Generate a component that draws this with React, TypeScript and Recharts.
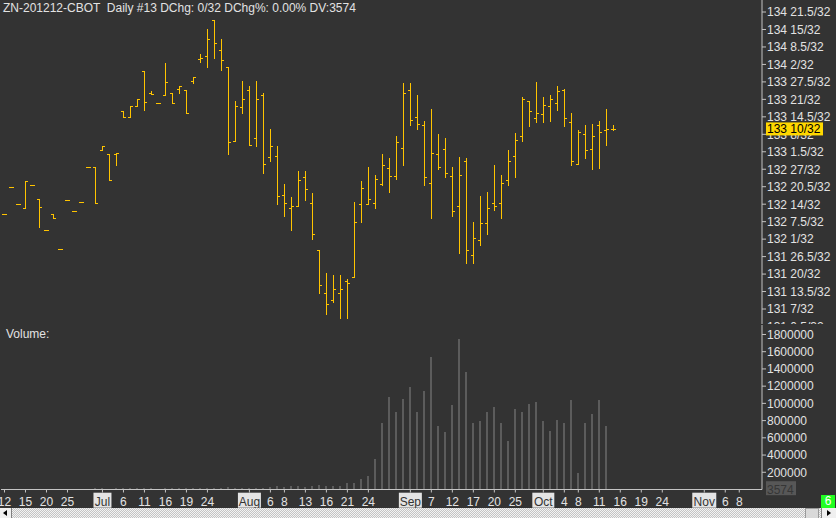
import React from 'react';
import { ComposedChart, Bar, XAxis, YAxis, ReferenceLine } from 'recharts';

// ZN Dec 2012 daily bars. Prices are in 32nds of a point (4266 = 133 10/32).
const days = [
  '06-12', '06-13', '06-14', '06-15', '06-18', '06-19', '06-20', '06-21', '06-22', '06-25', '06-26', '06-27', '06-28', '06-29',
  '07-02', '07-03', '07-05', '07-06', '07-09', '07-10', '07-11', '07-12', '07-13', '07-16', '07-17', '07-18', '07-19', '07-20',
  '07-23', '07-24', '07-25', '07-26', '07-27', '07-30', '07-31',
  '08-01', '08-02', '08-03', '08-06', '08-07', '08-08', '08-09', '08-10', '08-13', '08-14', '08-15', '08-16', '08-17', '08-20',
  '08-21', '08-22', '08-23', '08-24', '08-27', '08-28', '08-29', '08-30', '08-31',
  '09-04', '09-05', '09-06', '09-07', '09-10', '09-11', '09-12', '09-13', '09-14', '09-17', '09-18', '09-19', '09-20', '09-21',
  '09-24', '09-25', '09-26', '09-27', '09-28',
  '10-01', '10-02', '10-03', '10-04', '10-05', '10-08', '10-09', '10-10', '10-11', '10-12', '10-15',
  // sessions still to come
  '10-16', '10-17', '10-18', '10-19', '10-22', '10-23', '10-24', '10-25', '10-26', '10-29', '10-30', '10-31',
  '11-01', '11-02', '11-05', '11-06', '11-07', '11-08', '11-09', '11-12', '11-13',
];

const opens = [
  4234.5, 4244.5, 4238, 4236.5, 4245, 4240, 4228.5, 4234.5, 4221.5, 4239.5, 4235.5, 4239, 4252, 4252,
  4258, 4256.5, 4256.5, 4272.5, 4270.5, 4274.5, 4287.5, 4279.5, 4275.5, 4278.5, 4279.5, 4281, 4280.5, 4284, 4292, 4293, 4306.5, 4295.5, 4289, 4261.5, 4274,
  4280.5, 4262.5, 4278.5, 4255.5, 4256, 4241.5, 4236.5, 4237.5, 4248, 4238.5, 4221, 4205, 4202.5, 4205, 4209.5, 4211, 4238, 4238, 4238.5, 4245.5, 4251.5, 4248.5, 4259,
  4280.5, 4270.5, 4267.5, 4246, 4256.5, 4258.5, 4248.5, 4237.5, 4254, 4219, 4224.5, 4231, 4238.5, 4238.5, 4247, 4256, 4263.5, 4276.5, 4270,
  4271.5, 4274.5, 4275.5, 4280.5, 4268.5, 4253, 4264, 4258.5, 4267.5, 4265.5, 4266,
];
const highs = [
  4234.5, 4244.5, 4238, 4246.5, 4245, 4240, 4228.5, 4234.5, 4221.5, 4239.5, 4235.5, 4239, 4252, 4252,
  4259.5, 4256.5, 4257, 4272.5, 4274.5, 4277, 4287.5, 4280, 4275.5, 4290.5, 4279.5, 4282, 4280.5, 4285.5, 4294, 4303, 4306.5, 4299.5, 4289, 4276.5, 4284,
  4282, 4284, 4279.5, 4266, 4259.5, 4245.5, 4240.5, 4250.5, 4250.5, 4242, 4221, 4212.5, 4211.5, 4211.5, 4210, 4239, 4246.5, 4252, 4249, 4256.5, 4255, 4263.5, 4283,
  4283, 4278.5, 4269, 4273.5, 4264, 4262.5, 4252, 4255.5, 4255, 4231.5, 4241, 4242.5, 4252.5, 4249, 4258, 4264.5, 4278, 4276.5, 4283.5,
  4278, 4278.5, 4282, 4281, 4272, 4265.5, 4267.5, 4268, 4269, 4273.5, 4267.5,
];
const lows = [
  4234.5, 4244.5, 4238, 4236.5, 4245, 4229.5, 4228.5, 4233, 4221.5, 4239.5, 4235.5, 4239, 4252, 4238.5,
  4258, 4247, 4252.5, 4270.5, 4270.5, 4274.5, 4273, 4279, 4275.5, 4278.5, 4275.5, 4279.5, 4272, 4283, 4291, 4289, 4292.5, 4288, 4256.5, 4261.5, 4272,
  4260, 4259.5, 4249.5, 4254, 4238, 4233.5, 4228.5, 4237.5, 4239.5, 4225, 4205, 4197, 4201.5, 4195.5, 4195.5, 4211, 4231.5, 4238, 4236.5, 4245, 4242.5, 4247.5, 4252.5,
  4267.5, 4266, 4245, 4233, 4251, 4248, 4233.5, 4220, 4216, 4216, 4223, 4227, 4236, 4233, 4245, 4248, 4261.5, 4267, 4268.5,
  4268.5, 4269, 4273, 4267, 4252.5, 4253, 4255, 4251, 4251.5, 4260, 4265.5,
];
const closes = [
  4234.5, 4244.5, 4238, 4246.5, 4245, 4237, 4228.5, 4233, 4221.5, 4239.5, 4235.5, 4239, 4252, 4238.5,
  4259.5, 4247, 4257, 4270.5, 4274.5, 4277, 4276, 4279, 4275.5, 4283.5, 4275.5, 4282, 4272, 4285.5, 4292.5, 4299.5, 4298, 4291.5, 4261, 4274.5, 4277,
  4260, 4277, 4253, 4259.5, 4241, 4238.5, 4237.5, 4247, 4243.5, 4227, 4208, 4201, 4206.5, 4206.5, 4208.5, 4231.5, 4244, 4240, 4247.5, 4252.5, 4248.5, 4261, 4279.5,
  4269.5, 4268, 4248, 4257, 4252, 4249.5, 4235.5, 4249, 4221, 4225.5, 4231, 4236.5, 4237.5, 4246, 4254, 4262, 4277, 4272.5, 4272,
  4275, 4277, 4280, 4270, 4254, 4265, 4258, 4263.5, 4265, 4266, 4266,
];
const volumes = [
  0, 0, 0, 8000, 0, 9000, 0, 6000, 0, 0, 0, 0, 0, 12000,
  15000, 11000, 14000, 13000, 16000, 12000, 18000, 14000, 5000, 17000, 13000, 15000, 14000, 16000, 12000, 21000, 18000, 19000, 24000, 16000, 18000,
  20000, 22000, 23000, 29000, 41000, 29000, 41000, 41000, 29000, 41000, 52000, 41000, 41000, 41000, 75000, 75000, 122000, 157000, 354000, 771000, 1073000, 899000, 1050000,
  1189000, 899000, 1143000, 1537000, 737000, 667000, 980000, 1746000, 1363000, 771000, 795000, 899000, 957000, 771000, 563000, 934000, 899000, 992000, 1015000,
  795000, 679000, 806000, 771000, 1038000, 191000, 771000, 876000, 1038000, 737000, 3574,
];

const priceTicks = [
  4309.5, 4303, 4296.5, 4290, 4283.5, 4277, 4270.5, 4264, 4257.5, 4251,
  4244.5, 4238, 4231.5, 4225, 4218.5, 4212, 4205.5, 4199, 4192.5,
];
const volumeTicks = [200000, 400000, 600000, 800000, 1000000, 1200000, 1400000, 1600000, 1800000];

const tickDays = [
  '06-12', '06-15', '06-20', '06-25', '07-02', '07-06', '07-11', '07-16', '07-19', '07-24', '08-01', '08-06', '08-08',
  '08-13', '08-16', '08-21', '08-24', '09-04', '09-07', '09-12', '09-17', '09-20', '09-25', '10-01', '10-04', '10-08',
  '10-11', '10-16', '10-19', '10-24', '11-01', '11-06', '11-08',
];
const tickLabels = [
  '12', '15', '20', '25', 'Jul', '6', '11', '16', '19', '24', 'Aug', '6', '8',
  '13', '16', '21', '24', 'Sep', '7', '12', '17', '20', '25', 'Oct', '4', '8',
  '11', '16', '19', '24', 'Nov', '6', '8',
];

const FONT = '"Liberation Sans", Arial, sans-serif';
const BG = '#333333';
const TEXT = '#e2e2e2';
const AXIS = '#c4c4c4';
const BAR = '#ffc400';
const VOL = '#5c5c5c';
const monthBox: Record<string, number> = { Jul: 18, Aug: 23, Sep: 23, Oct: 22, Nov: 24 };

const tickIdx = tickDays.map((d) => days.indexOf(d));
const xDomain = [-0.5, days.length - 0.75];
const priceDomain = [4187.47, 4313.97];
const last = closes.length - 1;

const fmt32 = (q: number) => {
  const whole = Math.floor(q / 32);
  return `${whole} ${q - whole * 32}/32`;
};

const data = days.map((day, i) => ({
  idx: i,
  day,
  range: i <= last ? [lows[i], highs[i]] : null,
  open: i <= last ? opens[i] : null,
  close: i <= last ? closes[i] : null,
  volume: i <= last ? volumes[i] : null,
}));

const OhlcShape = (props: any) => {
  const { x, y, width, height, payload } = props;
  if (!payload || payload.open == null || !Number.isFinite(y)) return null;
  const [lo, hi] = payload.range;
  const top = Math.min(y, y + height);
  const span = Math.abs(height);
  const at = (v: number) => Math.round(hi > lo ? top + ((hi - v) / (hi - lo)) * span : top) + 0.5;
  const cx = Math.floor(x + width / 2) + 0.5;
  const yo = at(payload.open);
  const yc = at(payload.close);
  return (
    <g stroke={BAR} strokeWidth={1} shapeRendering="crispEdges">
      {span > 0.5 && <line x1={cx} x2={cx} y1={Math.round(top)} y2={Math.round(top + span) + 1} />}
      <line x1={cx - 2.5} x2={cx + 0.5} y1={yo} y2={yo} />
      <line x1={cx - 0.5} x2={cx + 2.5} y1={yc} y2={yc} />
    </g>
  );
};

const VolumeShape = (props: any) => {
  const { x, y, width, height, payload } = props;
  if (!payload || !payload.volume || !Number.isFinite(y)) return null;
  const h = Math.max(Math.abs(height), 1);
  const bottom = Math.max(y, y + height);
  return (
    <rect x={Math.round(x)} y={bottom - h} width={width} height={h} fill={VOL} shapeRendering="crispEdges" />
  );
};

// plain <text> so that long labels never wrap
const AxisText = (props: any) => {
  const { x, y, payload, tickFormatter } = props;
  const label = tickFormatter ? tickFormatter(payload.value) : String(payload.value);
  return (
    <text x={x} y={y} dy="0.36em" textAnchor="start" fill={TEXT} fontSize={12} fontFamily={FONT}>
      {label}
    </text>
  );
};

const DayTick = (props: any) => {
  const { x, y, payload } = props;
  const label = tickLabels[tickIdx.indexOf(payload.value)];
  if (!label) return null;
  const month = label in monthBox;
  return (
    <g>
      {month && <rect x={x - monthBox[label] / 2} y={y - 4.8} width={monthBox[label]} height={15} fill="#e4e4e4" />}
      <text x={x} y={y} dy="0.71em" textAnchor="middle" fill={month ? '#333333' : TEXT} fontSize={12} fontFamily={FONT}>
        {label}
      </text>
    </g>
  );
};

const PriceTag = (props: any) => {
  const { viewBox, text } = props;
  if (!viewBox) return null;
  const x = viewBox.x + viewBox.width + 4;
  const y = viewBox.y;
  return (
    <g>
      <rect x={x} y={y - 6.5} width={57} height={13} fill="#ffd800" />
      <text x={x + 1} y={y + 4.5} fill="#000000" fontSize={12} fontFamily={FONT}>{text}</text>
    </g>
  );
};

const VolumeTag = (props: any) => {
  const { viewBox, text } = props;
  if (!viewBox) return null;
  const x = viewBox.x + viewBox.width + 4;
  const y = viewBox.y;
  return (
    <g>
      <rect x={x} y={y - 8} width={30} height={14} fill="#575757" />
      <text x={x + 1} y={y + 4.5} fill="#363636" fontSize={12} fontFamily={FONT}>{text}</text>
    </g>
  );
};

const Arrow = ({ left, dir }: { left: number; dir: 'l' | 'r' }) => (
  <div
    style={{
      position: 'absolute', left, top: 2, width: 0, height: 0,
      borderTop: '3px solid transparent', borderBottom: '3px solid transparent',
      ...(dir === 'l' ? { borderRight: '4px solid #000' } : { borderLeft: '4px solid #000' }),
    }}
  />
);

export default function App() {
  const title = `ZN-201212-CBOT  Daily #13 DChg: ${closes[last] - closes[last - 1]}/32 DChg%: 0.00% DV:${volumes[last]}`;
  return (
    <div style={{ position: 'absolute', left: 0, top: 0, width: 836, height: 518, background: BG, overflow: 'hidden', fontFamily: FONT }}>
      <div style={{ position: 'absolute', left: 0, top: 0 }}>
        <ComposedChart width={836} height={340} data={data} margin={{ top: 0, right: 0, bottom: 0, left: 1 }}>
          <XAxis type="number" dataKey="idx" domain={xDomain} allowDataOverflow hide />
          <YAxis
            orientation="right"
            type="number"
            domain={priceDomain}
            allowDataOverflow
            ticks={priceTicks}
            interval={0}
            width={74}
            tickSize={4}
            tickMargin={1}
            tickFormatter={fmt32}
            tick={<AxisText />}
            axisLine={{ stroke: AXIS }}
            tickLine={{ stroke: AXIS }}
          />
          <Bar dataKey="range" barSize={5} shape={<OhlcShape />} isAnimationActive={false} />
        </ComposedChart>
      </div>

      {/* last-price tag drawn on an overlay with the same scales, so it sits above the axis labels */}
      <div style={{ position: 'absolute', left: 0, top: 0 }}>
        <ComposedChart width={836} height={340} data={data} margin={{ top: 0, right: 74, bottom: 0, left: 1 }}>
          <XAxis type="number" dataKey="idx" domain={xDomain} allowDataOverflow hide />
          <YAxis type="number" domain={priceDomain} allowDataOverflow hide />
          <ReferenceLine y={closes[last]} stroke="none" label={<PriceTag text={fmt32(closes[last])} />} />
        </ComposedChart>
      </div>

      <div style={{ position: 'absolute', left: 3, top: 1, color: TEXT, fontSize: 12, whiteSpace: 'pre' }}>{title}</div>

      <div style={{ position: 'absolute', left: 0, top: 324, background: BG }}>
        <ComposedChart width={836} height={184} data={data} margin={{ top: 1, right: 0, bottom: 0, left: 1 }}>
          <XAxis
            type="number"
            dataKey="idx"
            domain={xDomain}
            allowDataOverflow
            ticks={tickIdx}
            interval={0}
            height={18.5}
            tickSize={3}
            tickMargin={5}
            tick={<DayTick />}
            axisLine={{ stroke: AXIS }}
            tickLine={{ stroke: AXIS }}
          />
          <YAxis
            orientation="right"
            type="number"
            domain={[0, 1910000]}
            allowDataOverflow
            ticks={volumeTicks}
            interval={0}
            width={74}
            tickSize={4}
            tickMargin={1}
            tick={<AxisText />}
            axisLine={{ stroke: AXIS }}
            tickLine={{ stroke: AXIS }}
          />
          <Bar dataKey="volume" barSize={2} shape={<VolumeShape />} isAnimationActive={false} />
          <ReferenceLine y={volumes[last]} stroke="none" label={<VolumeTag text={String(volumes[last])} />} />
        </ComposedChart>
        <div style={{ position: 'absolute', left: 6, top: 3, color: TEXT, fontSize: 12 }}>Volume:</div>
      </div>

      <div style={{ position: 'absolute', left: 821, top: 495, width: 14, height: 13, background: '#22ff22', color: '#ffffff', fontSize: 12, lineHeight: '13px', textAlign: 'center' }}>6</div>

      <div
        style={{
          position: 'absolute', left: 0, top: 508, width: 836, height: 10,
          background: 'repeating-conic-gradient(#c4c4c4 0% 25%, #f2f2f2 0% 50%) 0 0 / 2px 2px',
        }}
      >
        <div style={{ position: 'absolute', left: 0, top: 0, width: 11, height: 10, background: '#f0f0f0', borderRight: '1px solid #808080' }}>
          <Arrow left={3} dir="l" />
        </div>
        <div style={{ position: 'absolute', left: 805, top: 0, width: 12, height: 9, background: '#d9d9d9', border: '1px solid #9a9a9a' }} />
        <div style={{ position: 'absolute', left: 821, top: 0, width: 15, height: 10, background: '#f0f0f0', borderLeft: '1px solid #808080' }}>
          <Arrow left={5} dir="r" />
        </div>
      </div>
    </div>
  );
}
